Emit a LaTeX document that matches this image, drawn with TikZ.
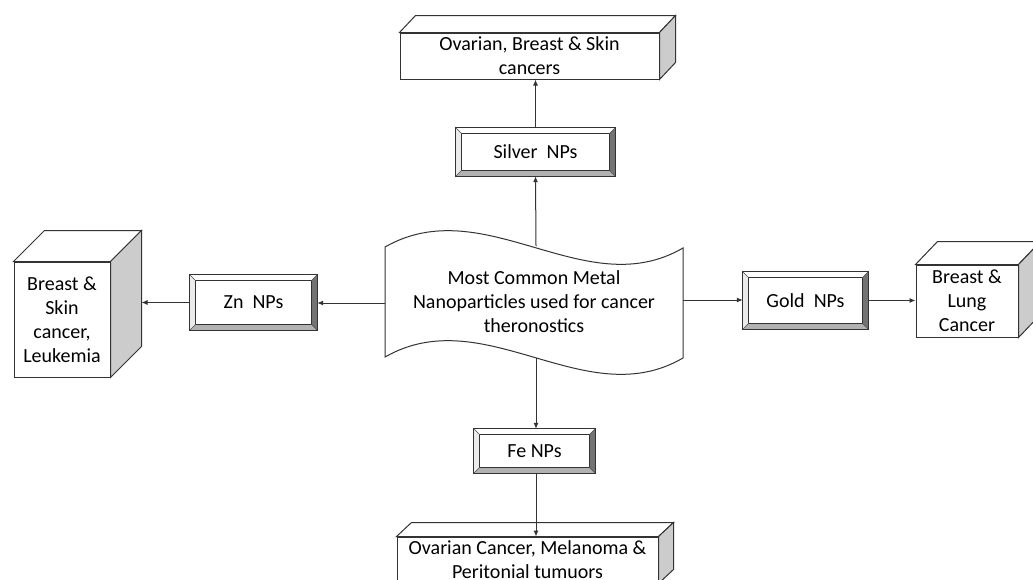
\documentclass[tikz,border=0pt]{standalone}
\usepackage{fontspec}
\setmainfont{Carlito}
\usetikzlibrary{calc,arrows.meta}
\def\bevelframe#1{%
  \fill[white] (#1.north west) -- (#1.north east) -- ($(#1.north east)+(-6,6)$) -- ($(#1.north west)+(6,6)$) -- cycle;
  \fill[black!8] (#1.north west) -- ($(#1.north west)+(6,6)$) -- ($(#1.south west)+(6,-6)$) -- (#1.south west) -- cycle;
  \fill[black!55] (#1.north east) -- ($(#1.north east)+(-6,6)$) -- ($(#1.south east)+(-6,-6)$) -- (#1.south east) -- cycle;
  \fill[black!30] (#1.south west) -- ($(#1.south west)+(6,-6)$) -- ($(#1.south east)+(-6,-6)$) -- (#1.south east) -- cycle;
  \draw[boxline] (#1.north west) rectangle (#1.south east);
  \draw[boxline] ($(#1.north west)+(6,6)$) rectangle ($(#1.south east)+(-6,-6)$);
  \draw[thinline] (#1.north west) -- ++(6,6) (#1.north east) -- ++(-6,6) (#1.south west) -- ++(6,-6) (#1.south east) -- ++(-6,-6);}
\def\solidbox#1#2#3{%
  \draw[boxline, fill=white] (#1.north west) -- ($(#1.north west)+(#2,-#3)$) -- ($(#1.north east)+(#2,-#3)$) -- (#1.north east) -- cycle;
  \draw[boxline, fill=black!20] (#1.north east) -- ($(#1.north east)+(#2,-#3)$) -- ($(#1.south east)+(#2,-#3)$) -- (#1.south east) -- cycle;
  \coordinate (#1-back) at ($(#1.east)+(#2,0)$);}

\begin{document}
\begin{tikzpicture}[x=1pt, y=-1pt,
	boxline/.style={line width=1pt, color=black!80},
	thinline/.style={line width=0.6pt, color=black!70},
	arr/.style={line width=1pt, color=black!80, -{Latex[length=6pt,width=5pt]}},
	txt/.style={inner sep=0pt, align=center, font=\fontsize{20}{24}\selectfont},
	cancerbox/.style={txt, draw=black!80, line width=1pt, fill=white},
	npbox/.style={txt}]
		%%%%% START %%%%%
		\useasboundingbox (0, 0) rectangle (1033, 579);
		\clip (0, 0) rectangle (1033, 579);
		
		% wave in the middle
		\draw[boxline, fill=white] (385, 247) .. controls (485, 190) and (585, 305) .. (683, 248)
			-- (683, 358) .. controls (585, 415) and (485, 300) .. (385, 357) -- cycle;
		\node[txt] (wave) at (534, 302) {Most Common Metal\\Nanoparticles used for cancer\\theronostics};
		\coordinate (wtop) at (536, 246);
		\coordinate (wbot) at (536, 358);
		\coordinate (wleft) at (385, 303);
		\coordinate (wright) at (683, 300);
		
		% nanoparticle boxes
		\node[npbox, minimum width=159, minimum height=48] (silver) at (535.5, 152) {Silver\ \ NPs};
		\bevelframe{silver}
		\node[npbox, minimum width=127, minimum height=55] (zn) at (253.5, 302.5) {Zn\ \ NPs};
		\bevelframe{zn}
		\node[npbox, minimum width=125, minimum height=57] (gold) at (805.5, 300.5) {Gold\ \ NPs};
		\bevelframe{gold}
		\node[npbox, minimum width=121, minimum height=44] (fe) at (534.5, 451) {Fe NPs};
		\bevelframe{fe}
		
		% cancer boxes
		\node[cancerbox, minimum width=259, minimum height=46] (top) at (529.5, 56) {Ovarian, Breast \& Skin\\cancers};
		\solidbox{top}{16}{17}
		\node[cancerbox, minimum width=96, minimum height=115] (left) at (62, 319.5) {Breast \&\\Skin\\cancer,\\Leukemia};
		\solidbox{left}{31}{31}
		\node[cancerbox, minimum width=102, minimum height=72] (right) at (967, 301) {Breast \&\\Lung\\Cancer};
		\solidbox{right}{22}{23}
		\node[cancerbox, minimum width=261, minimum height=46] (bottom) at (527.5, 560) {Ovarian Cancer, Melanoma \&\\Peritonial tumuors};
		\solidbox{bottom}{15}{14}
		
		% arrows
		\draw[arr] (wtop) -- (silver.south);
		\draw[arr] (silver.north) -- (silver.north |- top.south);
		\draw[arr] (wleft) -- (wleft -| zn.east);
		\draw[arr] (zn.west) -- (zn.west -| left-back);
		\draw[arr] (wright) -- (wright -| gold.west);
		\draw[arr] (gold.east) -- (gold.east -| right.west);
		\draw[arr] (wbot) -- (wbot |- fe.north);
		\draw[arr] (fe.south -| wbot) -- (wbot |- bottom.north);
		
		%%%%% END %%%%%
	\end{tikzpicture}
\end{document}
